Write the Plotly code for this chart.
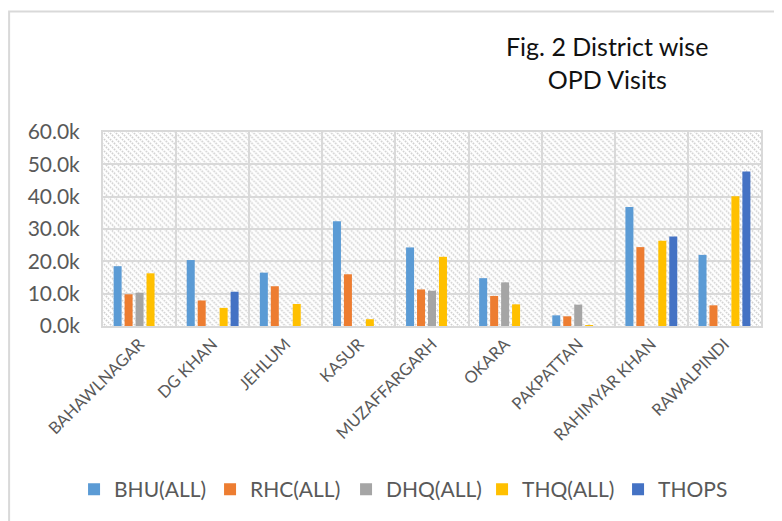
import base64

import plotly.graph_objects as go

districts = [
    "BAHAWLNAGAR", "DG KHAN", "JEHLUM", "KASUR", "MUZAFFARGARH",
    "OKARA", "PAKPATTAN", "RAHIMYAR KHAN", "RAWALPINDI",
]
bhu_all = [18500, 20400, 16500, 32400, 24300, 14800, 3300, 36800, 22000]
rhc_all = [9800, 7900, 12300, 16000, 11300, 9300, 3000, 24400, 6400]
dhq_all = [10300, 0, 0, 0, 10900, 13500, 6600, 0, 0]
thq_all = [16300, 5600, 6800, 2100, 21400, 6700, 200, 26400, 40100]
thops = [0, 10600, 0, 0, 0, 0, 0, 27700, 47800]

y_tickvals = [0, 10000, 20000, 30000, 40000, 50000, 60000]
y_ticktext = ["0.0k", "10.0k", "20.0k", "30.0k", "40.0k", "50.0k", "60.0k"]

_SERIES = [
    ("BHU(ALL)", bhu_all, "#5B9BD5"),
    ("RHC(ALL)", rhc_all, "#ED7D31"),
    ("DHQ(ALL)", dhq_all, "#A5A5A5"),
    ("THQ(ALL)", thq_all, "#FFC000"),
    ("THOPS", thops, "#4472C4"),
]

# diagonal hatch used as the plot-area fill (Excel "wide downward diagonal")
_hatch_svg = (
    '<svg xmlns="http://www.w3.org/2000/svg" width="660" height="195" viewBox="0 0 660 195">'
    '<defs><pattern id="h" width="6" height="6" patternUnits="userSpaceOnUse">'
    '<path d="M-1,-1 L7,7 M-7,-1 L1,7 M5,-1 L13,7" stroke="#cdcdcd" stroke-width="1.7" '
    'stroke-dasharray="1.6,1.2"/></pattern></defs>'
    '<rect width="660" height="195" fill="url(#h)"/></svg>'
)
_hatch_uri = "data:image/svg+xml;base64," + base64.b64encode(_hatch_svg.encode()).decode()

fig = go.Figure()
for name, values, color in _SERIES:
    fig.add_trace(
        go.Bar(
            x=districts,
            y=values,
            name=name,
            marker_color=color,
            marker_line_width=0,
        )
    )

fig.add_annotation(
    text="Fig. 2 District wise<br>OPD Visits",
    xref="paper", yref="paper",
    x=0.766, y=1.529,
    xanchor="center", yanchor="top",
    showarrow=False,
    align="center",
    font=dict(size=25, color="#111111", family="Lato, Carlito, sans-serif"),
)

# outer chart border (runs off the right and bottom edges like the original)
fig.add_shape(
    type="rect",
    xref="paper", yref="paper",
    x0=-0.1427, x1=1.2, y0=-1.5, y1=1.621,
    line=dict(color="#d9d9d9", width=2),
    fillcolor="rgba(0,0,0,0)",
    layer="below",
)

fig.add_layout_image(
    source=_hatch_uri,
    xref="paper", yref="paper",
    x=0, y=1, sizex=1, sizey=1,
    xanchor="left", yanchor="top",
    sizing="stretch",
    layer="below",
)

# page body has an 8px margin, so the figure is drawn 8px smaller
fig.update_layout(
    width=774,
    height=513,
    margin=dict(l=95, r=20.5, t=124, b=194.3),
    paper_bgcolor="white",
    plot_bgcolor="rgba(0,0,0,0)",
    barmode="group",
    bargap=0.25,
    bargroupgap=0.27,
    font=dict(family="Lato, Carlito, sans-serif", color="#595959"),
    xaxis=dict(
        automargin=False,
        tickson="boundaries",
        showgrid=True,
        gridcolor="#d9d9d9",
        gridwidth=2,
        ticks="",
        tickangle=-45,
        tickfont=dict(size=16.5, color="#595959"),
        showline=True,
        linecolor="#d9d9d9",
        linewidth=2,
        mirror=True,
    ),
    yaxis=dict(
        automargin=False,
        range=[0, 60000],
        tickvals=y_tickvals,
        ticktext=y_ticktext,
        showgrid=True,
        gridcolor="#d9d9d9",
        gridwidth=2,
        zeroline=False,
        ticks="",
        ticklabelstandoff=17,
        tickfont=dict(size=21, color="#595959"),
        showline=True,
        linecolor="#d9d9d9",
        linewidth=2,
        mirror=True,
    ),
    legend=dict(
        orientation="h",
        x=-0.044, xanchor="left",
        y=-0.834, yanchor="middle",
        font=dict(size=21, color="#595959"),
        itemwidth=30,
        entrywidth=91,
        traceorder="normal",
    ),
)

fig.write_html("out.html")
